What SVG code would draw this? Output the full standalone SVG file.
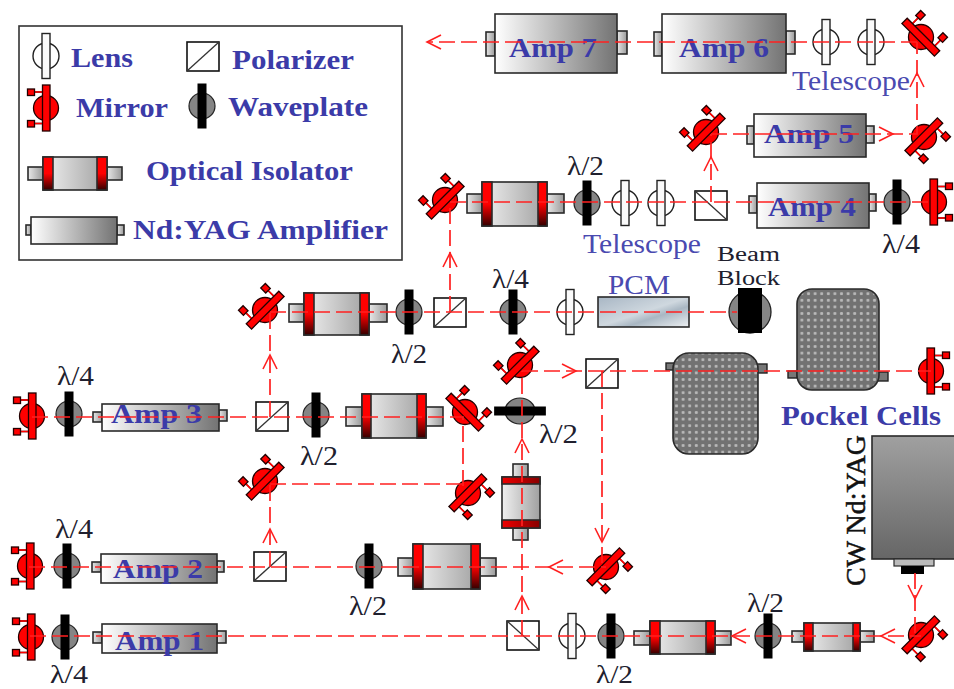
<svg xmlns="http://www.w3.org/2000/svg" xmlns:xlink="http://www.w3.org/1999/xlink" width="954" height="689" viewBox="0 0 954 689">
<style>
.bg{fill:#fff}
.o{stroke:#2a2a2a;stroke-width:1.6}
.amp{fill:url(#gAmp)}
.stub{fill:url(#gStub)}
.iso{fill:url(#gIso)}
.cap{fill:url(#gCap)}
.capv{fill:url(#gCapV)}
.beam{fill:none;stroke:#ff2020;stroke-width:1.7;stroke-dasharray:16 6}
.chev{fill:none;stroke:#ff2020;stroke-width:1.6}
.t{font-family:"Liberation Serif","Times New Roman",serif}
.b{fill:#3b3ba8;font-weight:bold;font-size:27px}
.bl{fill:#4a4ab0;font-size:27px}
.k{fill:#20202e;font-size:27px}
.pc{fill:url(#dots);stroke:#2a2a2a;stroke-width:1.6}
.pt{fill:#777;stroke:#222;stroke-width:1.4}
.m{fill:#f00;stroke:#200;stroke-width:1.3}
</style>
<defs>
<linearGradient id="gAmp"><stop offset="0" stop-color="#fff"/><stop offset="1" stop-color="#737373"/></linearGradient>
<linearGradient id="gStub"><stop offset="0" stop-color="#e8e8e8"/><stop offset="1" stop-color="#9a9a9a"/></linearGradient>
<linearGradient id="gIso"><stop offset="0" stop-color="#f0f0f0"/><stop offset="1" stop-color="#a0a0a0"/></linearGradient>
<linearGradient id="gCap" x1="0" y1="0" x2="0" y2="1"><stop offset="0" stop-color="#f00"/><stop offset=".5" stop-color="#f00"/><stop offset="1" stop-color="#300"/></linearGradient>
<linearGradient id="gCapV"><stop offset="0" stop-color="#e00"/><stop offset="1" stop-color="#800"/></linearGradient>
<linearGradient id="gPcm" x1="0" y1="0" x2="1" y2="1"><stop offset="0" stop-color="#a8b6c4"/><stop offset=".5" stop-color="#cfd8df"/><stop offset=".65" stop-color="#a9b7c3"/><stop offset="1" stop-color="#eef1f3"/></linearGradient>
<linearGradient id="gLaser" x1="0" y1="0" x2="0" y2="1"><stop offset="0" stop-color="#a0a0a0"/><stop offset="1" stop-color="#666"/></linearGradient>
<pattern id="dots" width="6.6" height="6.6" patternUnits="userSpaceOnUse"><rect width="6.6" height="6.6" fill="#727272"/><rect x="1.8" y="1.8" width="3" height="3" rx="1" fill="#b8b8b8"/></pattern>
<g id="mirror">
<path class="m" d="M-3-16H-12M-3 15.5H-12" fill="none" stroke-width="3.4"/>
<path d="M-3-16H-12M-3 15.5H-12" fill="none" stroke="#f00" stroke-width="1.6"/>
<rect class="m" x="-18.5" y="-19" width="7" height="6.5"/>
<rect class="m" x="-18.5" y="12.5" width="7" height="6.5"/>
<circle class="m" r="12.5"/>
<rect class="m" x="-3.5" y="-23" width="7.5" height="46"/>
</g>
<g id="wave">
<circle r="13" fill="#858585" stroke="#222" stroke-width="1.2"/>
<rect x="-4.5" y="-22.5" width="9" height="45" fill="#000"/>
</g>
<g id="lens">
<circle r="13" fill="#fff" stroke="#222" stroke-width="1.4"/>
<rect x="-4" y="-22.5" width="8" height="45" fill="#fafafa" stroke="#222" stroke-width="1.4"/>
</g>
<g id="polF"><rect width="32" height="29" fill="#fff" stroke="#111" stroke-width="1.6"/><path d="M0 29L32 0" stroke="#333" stroke-width="1.3"/></g>
<g id="polB"><rect width="32" height="29" fill="#fff" stroke="#111" stroke-width="1.6"/><path d="M0 0L32 29" stroke="#333" stroke-width="1.3"/></g>
<path id="chev" class="chev" d="M-14-7L0 0L-14 7"/>
</defs>
<rect class="bg" width="954" height="689"/>

<g id="legend">
<rect x="19" y="26" width="383" height="234" fill="#fff" stroke="#333" stroke-width="1.6"/>
<use href="#lens" x="46" y="56"/>
<text class="t b" x="71" y="67" textLength="62" lengthAdjust="spacingAndGlyphs">Lens</text>
<use href="#polF" x="187" y="42"/>
<text class="t b" x="232" y="69" textLength="122" lengthAdjust="spacingAndGlyphs">Polarizer</text>
<use href="#mirror" x="46" y="108"/>
<text class="t b" x="76" y="117" textLength="92" lengthAdjust="spacingAndGlyphs">Mirror</text>
<use href="#wave" x="202" y="106"/>
<text class="t b" x="228" y="116" textLength="140" lengthAdjust="spacingAndGlyphs">Waveplate</text>
<g class="o"><rect class="stub" x="28" y="167" width="15" height="13"/><rect class="stub" x="107" y="167" width="15" height="13"/><rect class="iso" x="43" y="157" width="64" height="33"/><rect class="cap" x="43" y="157" width="10" height="33"/><rect class="cap" x="97" y="157" width="10" height="33"/></g>
<text class="t b" x="146" y="180" textLength="207" lengthAdjust="spacingAndGlyphs">Optical Isolator</text>
<g class="o"><rect class="stub" x="26" y="225" width="5" height="10"/><rect class="stub" x="117" y="225" width="7" height="10"/><rect class="amp" x="31" y="217" width="86" height="27"/></g>
<text class="t b" x="133" y="239" textLength="255" lengthAdjust="spacingAndGlyphs">Nd:YAG Amplifier</text>
</g>

<g id="amp7" class="o"><rect class="stub" x="486" y="32" width="9" height="24"/><rect class="stub" x="617" y="31" width="10" height="23"/><rect class="amp" x="495" y="14" width="122" height="59"/><text class="t b" stroke="none" x="509" y="57" textLength="88" lengthAdjust="spacingAndGlyphs">Amp 7</text></g>
<g id="amp6" class="o"><rect class="stub" x="654" y="32" width="8" height="24"/><rect class="stub" x="786" y="31" width="9" height="23"/><rect class="amp" x="662" y="14" width="124" height="59"/><text class="t b" stroke="none" x="679" y="57" textLength="90" lengthAdjust="spacingAndGlyphs">Amp 6</text></g>
<g id="lens-top-1"><use href="#lens" x="826" y="42"/></g>
<g id="lens-top-2"><use href="#lens" x="871" y="42"/></g>
<g id="mirror-top"><use href="#mirror" transform="translate(921 37) rotate(135)"/></g>
<text class="t bl" x="792" y="90" textLength="118" lengthAdjust="spacingAndGlyphs">Telescope</text>

<g id="mirror-5r"><use href="#mirror" transform="translate(924 137) rotate(-135)"/></g>
<g id="mirror-5l"><use href="#mirror" transform="translate(706 132) rotate(45)"/></g>
<g id="amp5" class="o"><rect class="stub" x="747" y="126" width="7" height="18"/><rect class="stub" x="866" y="126" width="8" height="17"/><rect class="amp" x="754" y="114" width="112" height="43"/><text class="t b" stroke="none" x="764" y="143" textLength="90" lengthAdjust="spacingAndGlyphs">Amp 5</text></g>

<g id="mirror-4l"><use href="#mirror" transform="translate(445 200) rotate(45)"/></g>
<g id="iso-4" class="o"><rect class="stub" x="467" y="194" width="15" height="19"/><rect class="stub" x="547" y="194" width="17" height="19"/><rect class="iso" x="482" y="182" width="65" height="44"/><rect class="cap" x="482" y="182" width="10" height="44"/><rect class="cap" x="538" y="182" width="9" height="44"/></g>
<g id="wave-4a"><use href="#wave" x="587" y="203"/></g>
<text class="t k" x="567" y="175" textLength="37" lengthAdjust="spacingAndGlyphs">λ/2</text>
<g id="lens-4a"><use href="#lens" x="625" y="203"/></g>
<g id="lens-4b"><use href="#lens" x="661" y="203"/></g>
<text class="t bl" x="583" y="253" textLength="118" lengthAdjust="spacingAndGlyphs">Telescope</text>
<g id="pol-4"><use href="#polB" x="695" y="191"/></g>
<g id="amp4" class="o"><rect class="stub" x="749" y="196" width="8" height="17"/><rect class="stub" x="869" y="194" width="7" height="17"/><rect class="amp" x="757" y="183" width="112" height="45"/><text class="t b" stroke="none" x="768" y="216" textLength="88" lengthAdjust="spacingAndGlyphs">Amp 4</text></g>
<g id="wave-4b"><use href="#wave" x="897" y="202"/></g>
<text class="t k" x="882" y="253" textLength="38" lengthAdjust="spacingAndGlyphs">λ/4</text>
<g id="mirror-4r"><use href="#mirror" transform="translate(934 202) rotate(180)"/></g>

<g id="mirror-pcm"><use href="#mirror" transform="translate(265 310) rotate(45)"/></g>
<g id="iso-pcm" class="o"><rect class="stub" x="289" y="304" width="15" height="18"/><rect class="stub" x="369" y="304" width="18" height="18"/><rect class="iso" x="304" y="293" width="65" height="42"/><rect class="cap" x="304" y="293" width="10" height="42"/><rect class="cap" x="360" y="293" width="9" height="42"/></g>
<g id="wave-pcm-a"><use href="#wave" x="409" y="312"/></g>
<text class="t k" x="391" y="363" textLength="36" lengthAdjust="spacingAndGlyphs">λ/2</text>
<g id="pol-pcm"><use href="#polF" x="434" y="298"/></g>
<g id="wave-pcm-b"><use href="#wave" x="513" y="312"/></g>
<text class="t k" x="492" y="288" textLength="37" lengthAdjust="spacingAndGlyphs">λ/4</text>
<g id="lens-pcm"><use href="#lens" x="570" y="312"/></g>
<g id="pcm"><rect x="598" y="297" width="91" height="30" fill="url(#gPcm)" stroke="#2a2a2a" stroke-width="1.6"/><text class="t bl" x="608" y="294" textLength="62" lengthAdjust="spacingAndGlyphs">PCM</text></g>
<g id="beam-block"><circle cx="750" cy="312" r="21" fill="#858585" stroke="#222" stroke-width="1.3"/><rect x="738" y="288" width="24" height="45" fill="#000"/>
<text class="t k" style="font-size:21.6px" x="717" y="261" textLength="63" lengthAdjust="spacingAndGlyphs">Beam</text><text class="t k" style="font-size:21.6px" x="717" y="285" textLength="63" lengthAdjust="spacingAndGlyphs">Block</text></g>

<g id="mirror-mid"><use href="#mirror" transform="translate(520 365) rotate(45)"/></g>
<g id="pol-mid"><use href="#polF" x="586" y="359"/></g>
<g id="pockel-1"><rect class="pt" x="666" y="363" width="8" height="7"/><rect class="pt" x="757" y="364" width="10" height="9"/><rect class="pc" x="673" y="353" width="85" height="101" rx="16"/></g>
<g id="pockel-2"><rect class="pt" x="788" y="371" width="9" height="7"/><rect class="pt" x="878" y="372" width="10" height="9"/><rect class="pc" x="797" y="289" width="82" height="101" rx="15"/></g>
<text class="t b" x="781" y="425" textLength="160" lengthAdjust="spacingAndGlyphs">Pockel Cells</text>
<g id="mirror-pockel"><use href="#mirror" transform="translate(931 371) rotate(180)"/></g>

<g id="mirror-3"><use href="#mirror" x="32" y="416"/></g>
<g id="wave-3a"><use href="#wave" x="69" y="414"/></g>
<text class="t k" x="57" y="385" textLength="37" lengthAdjust="spacingAndGlyphs">λ/4</text>
<g id="amp3" class="o"><rect class="stub" x="93" y="412" width="9" height="10"/><rect class="stub" x="219" y="410" width="8" height="11"/><rect class="amp" x="102" y="404" width="117" height="27"/><text class="t b" stroke="none" x="111" y="423" textLength="91" lengthAdjust="spacingAndGlyphs">Amp 3</text></g>
<g id="pol-3"><use href="#polF" x="256" y="402"/></g>
<g id="wave-3b"><use href="#wave" x="316" y="415"/></g>
<text class="t k" x="300" y="465" textLength="38" lengthAdjust="spacingAndGlyphs">λ/2</text>
<g id="iso-3" class="o"><rect class="stub" x="346" y="407" width="16" height="19"/><rect class="stub" x="426" y="407" width="17" height="19"/><rect class="iso" x="362" y="394" width="64" height="44"/><rect class="cap" x="362" y="394" width="9" height="44"/><rect class="cap" x="417" y="394" width="9" height="44"/></g>
<g id="mirror-3r"><use href="#mirror" transform="translate(465 412) rotate(135)"/></g>
<g id="wave-h"><use href="#wave" transform="translate(520 411) rotate(90) scale(1 1.15)"/></g>
<text class="t k" x="539" y="443" textLength="39" lengthAdjust="spacingAndGlyphs">λ/2</text>

<g id="mirror-x1"><use href="#mirror" transform="translate(265 481) rotate(45)"/></g>
<g id="mirror-x2"><use href="#mirror" transform="translate(468 493) rotate(-135)"/></g>
<g id="iso-v" class="o"><rect class="stub" x="513" y="464" width="15" height="13"/><rect class="stub" x="513" y="528" width="15" height="12"/><rect class="iso" x="502" y="477" width="38" height="51"/><rect class="capv" x="502" y="477" width="38" height="7"/><rect class="capv" x="502" y="520" width="38" height="8"/></g>

<g id="mirror-2"><use href="#mirror" x="30" y="566"/></g>
<g id="wave-2a"><use href="#wave" x="67" y="566"/></g>
<text class="t k" x="55" y="538" textLength="38" lengthAdjust="spacingAndGlyphs">λ/4</text>
<g id="amp2" class="o"><rect class="stub" x="92" y="562" width="9" height="10"/><rect class="stub" x="217" y="561" width="7" height="11"/><rect class="amp" x="101" y="554" width="116" height="29"/><text class="t b" stroke="none" x="113" y="578" textLength="90" lengthAdjust="spacingAndGlyphs">Amp 2</text></g>
<g id="pol-2"><use href="#polF" x="254" y="552"/></g>
<g id="wave-2b"><use href="#wave" x="369" y="566"/></g>
<text class="t k" x="349" y="615" textLength="38" lengthAdjust="spacingAndGlyphs">λ/2</text>
<g id="iso-2" class="o"><rect class="stub" x="398" y="558" width="15" height="18"/><rect class="stub" x="480" y="558" width="16" height="18"/><rect class="iso" x="413" y="544" width="67" height="45"/><rect class="cap" x="413" y="544" width="10" height="45"/><rect class="cap" x="471" y="544" width="9" height="45"/></g>
<g id="mirror-2r"><use href="#mirror" transform="translate(606 567) rotate(-135)"/></g>

<g id="mirror-1"><use href="#mirror" x="31" y="637"/></g>
<g id="wave-1a"><use href="#wave" x="65" y="637"/></g>
<text class="t k" style="font-size:25px" x="50" y="683" textLength="38" lengthAdjust="spacingAndGlyphs">λ/4</text>
<g id="amp1" class="o"><rect class="stub" x="93" y="632" width="9" height="11"/><rect class="stub" x="217" y="631" width="9" height="12"/><rect class="amp" x="102" y="624" width="115" height="29"/><text class="t b" stroke="none" x="115" y="650" textLength="89" lengthAdjust="spacingAndGlyphs">Amp 1</text></g>
<g id="pol-1"><use href="#polB" x="507" y="621"/></g>
<g id="lens-1"><use href="#lens" x="572" y="636"/></g>
<g id="wave-1b"><use href="#wave" x="611" y="636"/></g>
<text class="t k" style="font-size:25px" x="596" y="683" textLength="37" lengthAdjust="spacingAndGlyphs">λ/2</text>
<g id="iso-1a" class="o"><rect class="stub" x="634" y="631" width="16" height="14"/><rect class="stub" x="715" y="631" width="16" height="14"/><rect class="iso" x="650" y="621" width="65" height="33"/><rect class="cap" x="650" y="621" width="10" height="33"/><rect class="cap" x="706" y="621" width="9" height="33"/></g>
<g id="wave-1c"><use href="#wave" x="768" y="636"/></g>
<text class="t k" x="747" y="612" textLength="37" lengthAdjust="spacingAndGlyphs">λ/2</text>
<g id="iso-1b" class="o"><rect class="stub" x="792" y="631" width="12" height="11"/><rect class="stub" x="860" y="631" width="14" height="11"/><rect class="iso" x="804" y="623" width="56" height="28"/><rect class="cap" x="804" y="623" width="9" height="28"/><rect class="cap" x="853" y="623" width="7" height="28"/></g>
<g id="mirror-1r"><use href="#mirror" transform="translate(921 635) rotate(-135)"/></g>

<g id="cw-laser"><rect x="872" y="436" width="84" height="123" fill="url(#gLaser)" stroke="#2a2a2a" stroke-width="1.6"/><rect x="894" y="559" width="40" height="7" fill="#bbb" stroke="#2a2a2a" stroke-width="1.2"/><rect x="901" y="566" width="23" height="8" fill="#000"/>
<text class="t" fill="#111" stroke="#111" stroke-width=".5" font-size="27" transform="translate(865 586) rotate(-90)" textLength="151" lengthAdjust="spacingAndGlyphs">CW Nd:YAG</text></g>

<g id="connectors">
<path class="beam" d="M917 42H427"/>
<path class="beam" d="M711 134H917V42"/>
<path class="beam" d="M711 202V134"/>
<path class="beam" d="M450 202H934"/>
<path class="beam" d="M450 312V202"/>
<path class="beam" d="M270 312H737"/>
<path class="beam" d="M32 417H463V490"/>
<path class="beam" d="M270 417V312"/>
<path class="beam" d="M270 484H463"/>
<path class="beam" d="M270 567V484"/>
<path class="beam" d="M29 567H606"/>
<path class="beam" d="M30 636H921"/>
<path class="beam" d="M522 636V371"/>
<path class="beam" d="M522 371H931"/>
<path class="beam" d="M602 371V567"/>
<path class="beam" d="M915 573V636"/>
<use href="#chev" transform="translate(427 42) rotate(180)"/>
<use href="#chev" transform="translate(893 134)"/>
<use href="#chev" transform="translate(917 73) rotate(-90)"/>
<use href="#chev" transform="translate(711 157) rotate(-90)"/>
<use href="#chev" transform="translate(450 253) rotate(-90)"/>
<use href="#chev" transform="translate(270 355) rotate(-90)"/>
<use href="#chev" transform="translate(270 529) rotate(-90)"/>
<use href="#chev" transform="translate(522 439) rotate(-90)"/>
<use href="#chev" transform="translate(522 596) rotate(-90)"/>
<use href="#chev" transform="translate(576 371)"/>
<use href="#chev" transform="translate(602 542) rotate(90)"/>
<use href="#chev" transform="translate(549 567) rotate(180)"/>
<use href="#chev" transform="translate(732 636) rotate(180)"/>
<use href="#chev" transform="translate(881 636) rotate(180)"/>
<use href="#chev" transform="translate(915 599) rotate(90)"/>
</g>
</svg>
